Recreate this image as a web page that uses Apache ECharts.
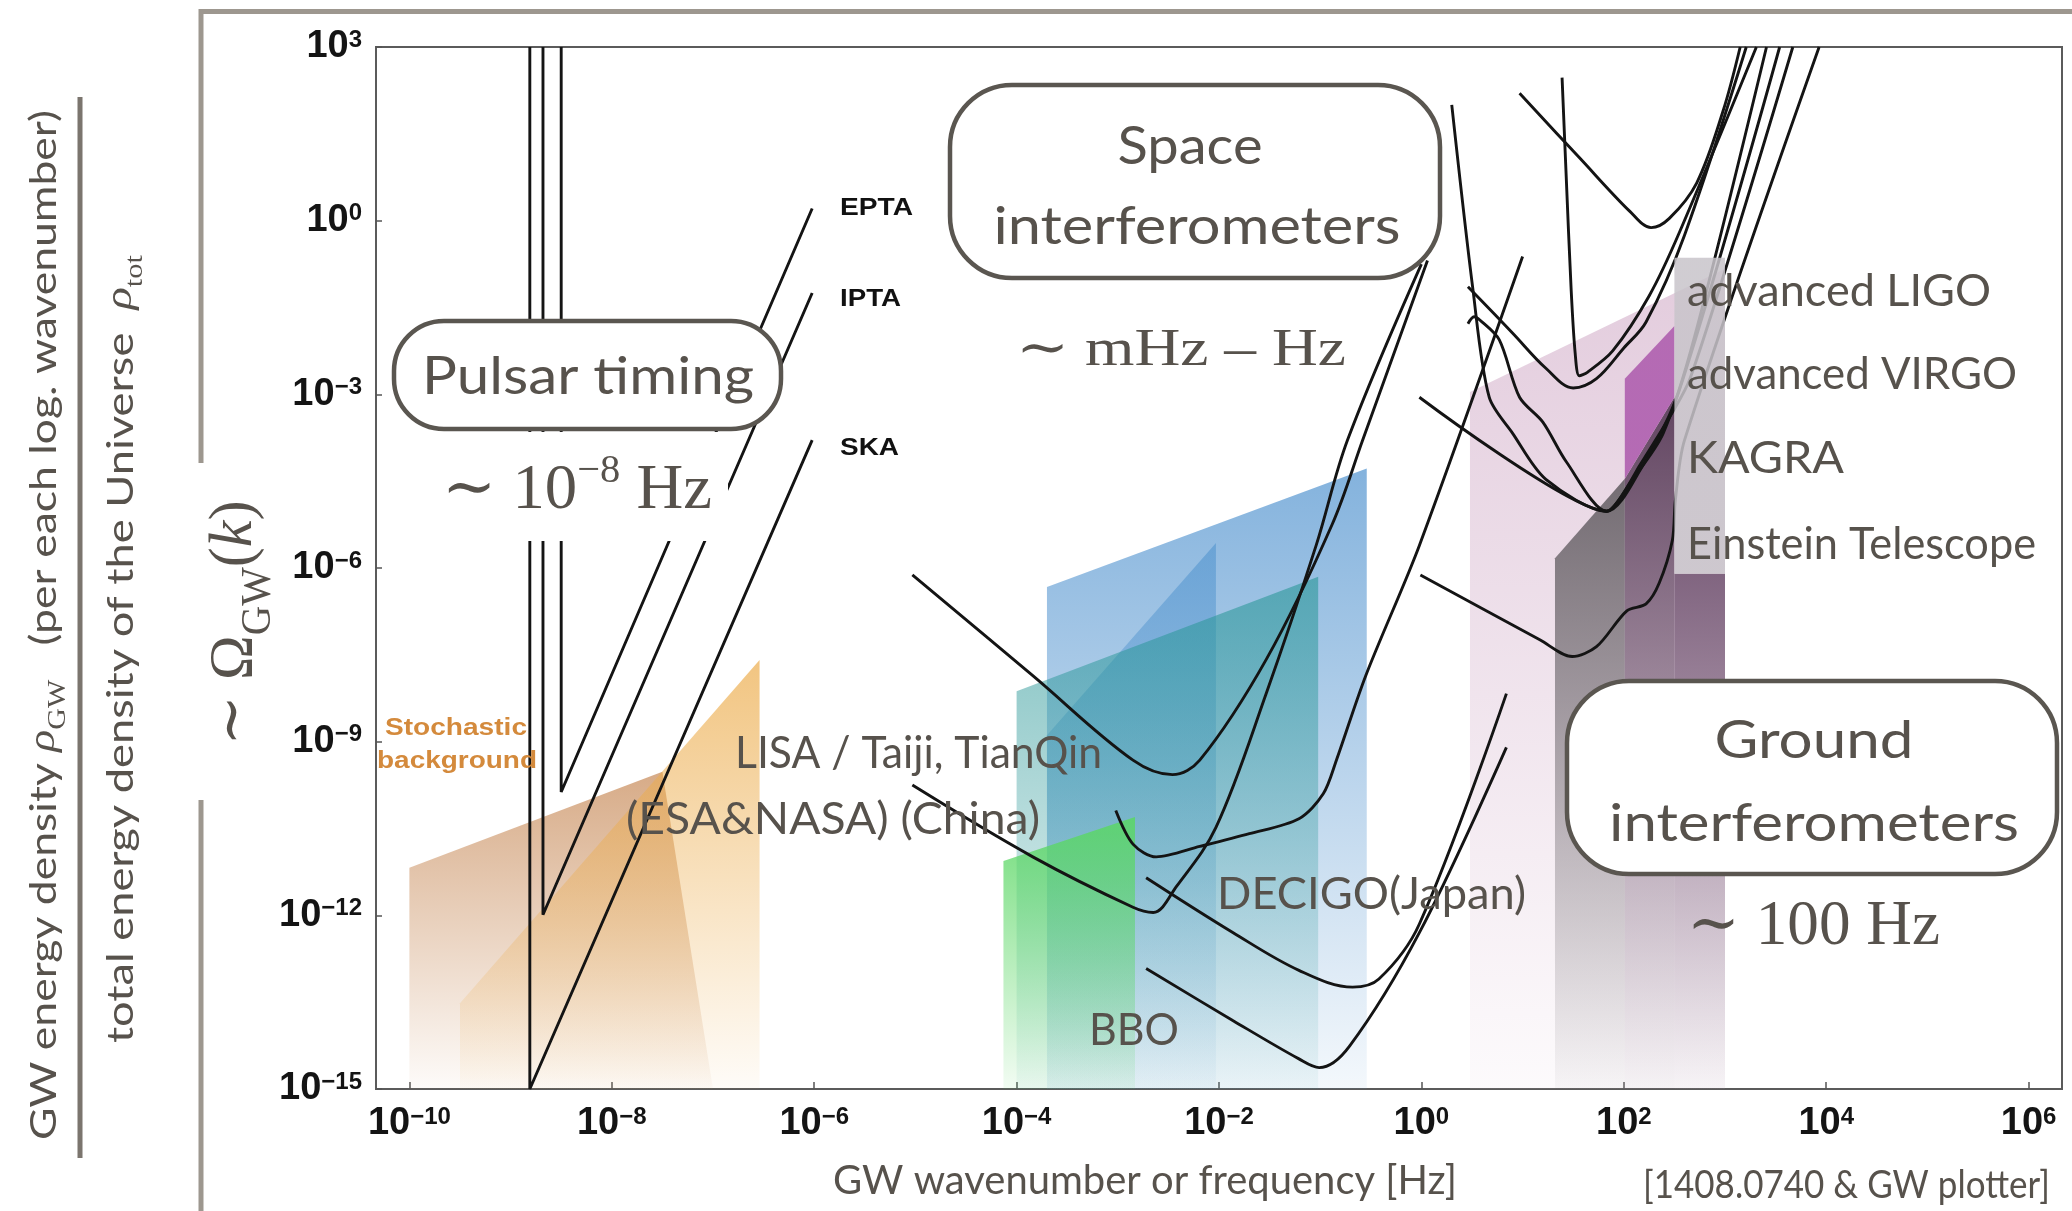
<!DOCTYPE html>
<html>
<head>
<meta charset="utf-8">
<title>Gravitational-wave detector sensitivities</title>
<script src="https://cdn.jsdelivr.net/npm/echarts@6/dist/echarts.min.js"></script>
<style>
  html, body { margin: 0; padding: 0; background: #fff; }
  #chart { width: 2072px; height: 1211px; }
</style>
</head>
<body>
<div id="chart"></div>
<script>
// axes are in log10 units: x = log10(f / Hz), y = log10(Omega_GW)
const X_MIN = -10.33, X_MAX = 6.33;
const Y_MIN = -15, Y_MAX = 3;
const xTicks = [-10, -8, -6, -4, -2, 0, 2, 4, 6];
const yTicks = [3, 0, -3, -6, -9, -12, -15];

// pulsar timing arrays
const epta = [[-8.50, 3], [-8.50, -9.87], [-6.02, 0.21]];
const ipta = [[-8.68, 3], [-8.68, -11.99], [-6.02, -1.25]];
const ska = [[-8.81, 3], [-8.81, -15], [-6.02, -3.79]];

// space interferometers
const lisa = [[-5.03, -6.12], [-3.84, -7.86], [-2.85, -9.32], [-2.46, -9.57], [-2.19, -9.32], [-1.53, -7.57], [-0.88, -5.24], [-0.58, -3.79], [0.06, -0.69]];
const taiji = [[-5.03, -9.75], [-3.84, -10.99], [-2.85, -11.86], [-2.65, -11.95], [-2.42, -11.50], [-2.03, -10.48], [-1.53, -8.15], [-1.04, -5.61], [-0.73, -3.79], [0.0, -0.75]];
const tianqin = [[-3.02, -10.19], [-2.85, -10.77], [-2.62, -10.99], [-2.19, -10.81], [-1.70, -10.59], [-1.21, -10.33], [-0.97, -9.90], [-0.84, -9.32], [-0.55, -7.86], [-0.02, -5.61], [1.0, -0.62]];
const decigo = [[-2.72, -11.35], [-1.86, -12.30], [-1.21, -12.95], [-0.68, -13.24], [-0.42, -13.10], [-0.02, -12.15], [0.84, -8.17]];
const bbo = [[-2.72, -12.92], [-1.86, -13.82], [-1.21, -14.48], [-1.01, -14.63], [-0.71, -14.26], [-0.02, -12.30], [0.84, -9.10]];

// ground interferometers
const groundA = [[0.97, 2.20], [1.56, 1.09], [2.06, 0.16], [2.27, -0.12], [2.45, 0.04], [2.72, 0.65], [2.98, 1.89], [3.15, 3.0]];
const aLIGO = [[0.46, -1.14], [0.90, -1.94], [1.23, -2.55], [1.50, -2.89], [1.73, -2.73], [2.0, -2.20], [2.22, -1.75], [2.60, -0.25], [3.21, 3.0]];
const aVIRGO = [[1.39, 2.47], [1.43, 0.8], [1.48, -1.20], [1.52, -2.30], [1.56, -2.68], [1.64, -2.62], [1.89, -2.25], [2.25, -1.30], [2.55, -0.2], [3.31, 3.0]];
const kagra = [[0.46, -1.78], [0.52, -1.66], [0.58, -1.72], [0.77, -2.06], [0.97, -3.05], [1.20, -3.48], [1.43, -4.16], [1.83, -5.02], [2.09, -4.46], [2.39, -3.67], [2.70, -2.00], [3.41, 3.0]];
const groundF = [[0.30, 2.0], [0.51, -1.20], [0.67, -3.05], [0.90, -3.67], [1.23, -4.47], [1.83, -5.02], [2.16, -4.31], [2.55, -2.92], [3.54, 3.0]];
const groundG = [[-0.02, -3.05], [1.83, -5.02], [2.16, -4.22], [2.65, -2.75], [3.67, 3.0]];
const einstein = [[-0.01, -6.12], [1.17, -7.24], [1.49, -7.53], [1.73, -7.36], [2.03, -6.74], [2.22, -6.62], [2.35, -6.26], [2.48, -5.52], [2.51, -4.82], [2.60, -3.79], [3.93, 3.0]];

// shaded signal regions (polygon vertices)
const stochasticA = [[-10, -15], [-10, -11.18], [-7.50, -9.52], [-7.0, -15]];
const stochasticB = [[-9.5, -15], [-9.5, -13.52], [-6.54, -7.59], [-6.54, -15]];
const lisaBand = [[-3.70, -15], [-3.70, -6.33], [-0.54, -4.28], [-0.54, -15]];
const lisaCore = [[-3.70, -15], [-3.70, -8.89], [-2.03, -5.57], [-2.03, -15]];
const taijiBand = [[-4.00, -15], [-4.00, -8.13], [-1.02, -6.15], [-1.02, -15]];
const bboBand = [[-4.13, -15], [-4.13, -11.06], [-2.83, -10.30], [-2.83, -15]];
const groundBand = [[0.48, -15], [0.48, -2.96], [3.0, -0.83], [3.0, -15]];
const groundGray = [[1.32, -15], [1.32, -5.83], [2.01, -4.46], [2.01, -15]];
const groundDark = [[2.01, -15], [2.01, -4.46], [2.50, -3.05], [2.50, -15]];
const groundMagenta = [[2.01, -4.46], [2.01, -2.73], [2.50, -1.82], [2.50, -3.05]];
const groundRight = [[2.50, -15], [2.50, -6.10], [3.0, -6.10], [3.0, -15]];
const groundVeil = [[2.50, -6.10], [2.50, -0.64], [3.0, -0.64], [3.0, -6.10]];

const INK = '#57524c';
const SANS = 'Lato';
const SERIF = "'Liberation Serif', 'DejaVu Serif', serif";
const HELV = "'Liberation Sans', Arial, sans-serif";

const bands = [
  { pts: stochasticA, rgb: '205,150,105', top: 0.8, bottom: 0.04 },
  { pts: stochasticB, rgb: '236,172,75', top: 0.7, bottom: 0.04 },
  { pts: lisaBand, rgb: '110,165,215', top: 0.85, bottom: 0.08 },
  { pts: lisaCore, rgb: '60,135,200', top: 0.45, bottom: 0.04 },
  { pts: taijiBand, rgb: '40,150,150', top: 0.6, bottom: 0.05 },
  { pts: bboBand, rgb: '90,215,100', top: 0.85, bottom: 0.08 },
  { pts: groundBand, rgb: '222,195,215', top: 0.85, bottom: 0.08 },
  { pts: groundGray, rgb: '95,90,95', top: 0.85, bottom: 0.04 },
  { pts: groundDark, rgb: '75,45,75', top: 0.85, bottom: 0.04 },
  { pts: groundMagenta, rgb: '175,95,175', top: 0.9, bottom: 0.9 },
  { pts: groundRight, rgb: '110,80,110', top: 0.85, bottom: 0.04 }
];
const veils = [{ pts: groundVeil, rgb: '200,196,202', top: 0.85, bottom: 0.85 }];

const curves = [
  [ska, 0], [ipta, 0], [epta, 0],
  [lisa, 0.35], [taiji, 0.35], [tianqin, 0.3], [decigo, 0.35], [bbo, 0.35],
  [groundA, 0.35], [aLIGO, 0.35], [aVIRGO, 0.3], [kagra, 0.3], [groundF, 0.3], [groundG, 0.2], [einstein, 0.3]
];

const bandSeries = (list, z) => ({
  type: 'custom',
  z,
  silent: true,
  data: list.map((b, i) => [b.pts[0][0], b.pts[0][1], i]),
  renderItem: (params, api) => {
    const b = list[params.dataIndex];
    return {
      type: 'polygon',
      shape: { points: b.pts.map(p => api.coord(p)) },
      style: {
        fill: new echarts.graphic.LinearGradient(0, 0, 0, 1, [
          { offset: 0, color: `rgba(${b.rgb},${b.top})` },
          { offset: 1, color: `rgba(${b.rgb},${b.bottom})` }
        ])
      }
    };
  }
});

// text measuring, to squeeze the substitute fonts to the widths in the figure
const mctx = document.createElement('canvas').getContext('2d');
const widthOf = (str, font) => { mctx.font = font; return mctx.measureText(str).width; };

const label = (str, x, y, size, width, o = {}) => {
  const font = `${o.italic ? 'italic ' : ''}${o.bold ? 'bold ' : ''}${size}px ${o.family || SANS}`;
  return {
    type: 'text', x, y, z: 110,
    rotation: o.rotation || 0,
    scaleX: width ? width / widthOf(str, font) : 1,
    style: { text: str, font, fill: o.color || INK, align: o.align || 'center', verticalAlign: 'middle' }
  };
};

const richLabel = (parts, styles, x, y, width, o = {}) => {
  let w = 0;
  parts.forEach(([k, s]) => {
    const st = styles[k];
    w += widthOf(s, `${st.fontStyle || 'normal'} ${st.fontWeight || 'normal'} ${st.fontSize}px ${st.fontFamily}`);
  });
  return {
    type: 'text', x, y, z: 110,
    rotation: o.rotation || 0,
    scaleX: width ? width / w : 1,
    style: {
      text: parts.map(([k, s]) => `{${k}|${s}}`).join(''),
      rich: styles,
      align: o.align || 'center',
      verticalAlign: 'middle'
    }
  };
};

const box = (x, y, w, h, r) => ({
  type: 'rect', z: 100,
  shape: { x, y, width: w, height: h, r },
  style: { fill: '#fff', stroke: '#5a5650', lineWidth: 4.5 }
});

const line = (x1, y1, x2, y2, color, w) => ({
  type: 'line', z: 100,
  shape: { x1, y1, x2, y2 },
  style: { stroke: color, lineWidth: w }
});

const serifTok = (size, extra = {}) => Object.assign({ fontSize: size, fontFamily: SERIF, fill: INK }, extra);
const sansTok = (size, extra = {}) => Object.assign({ fontSize: size, fontFamily: SANS, fill: INK }, extra);

const graphic = [
  // slide frame
  line(199, 11.5, 2072, 11.5, '#9d978f', 5),
  line(201, 9, 201, 463, '#9d978f', 5),
  line(201, 800, 201, 1211, '#9d978f', 5),
  // left fraction
  line(80, 97, 80, 1158, '#7b756e', 5),
  richLabel([['n', 'GW energy density '], ['g', 'ρ'], ['sub', 'GW'], ['n', '   (per each log. wavenumber)']], {
    n: sansTok(37, { padding: [0, 0, 8, 0] }),
    g: serifTok(38, { fontStyle: 'italic', padding: [0, 0, 8, 0] }),
    sub: serifTok(25, { verticalAlign: 'bottom' })
  }, 48, 625, 1030, { rotation: Math.PI / 2 }),
  richLabel([['n', 'total energy density of the Universe  '], ['g', 'ρ'], ['sub', 'tot']], {
    n: sansTok(37, { padding: [0, 0, 8, 0] }),
    g: serifTok(38, { fontStyle: 'italic', padding: [0, 0, 8, 0] }),
    sub: serifTok(25, { verticalAlign: 'bottom' })
  }, 125, 649, 788, { rotation: Math.PI / 2 }),
  richLabel([['t', '∼ Ω'], ['sub', 'GW'], ['t', '('], ['i', 'k'], ['t', ')']], {
    t: serifTok(62, { padding: [0, 0, 14, 0] }),
    i: serifTok(62, { fontStyle: 'italic', padding: [0, 0, 14, 0] }),
    sub: serifTok(42, { verticalAlign: 'bottom' })
  }, 242, 623, 245, { rotation: Math.PI / 2 }),

  // region boxes
  box(394, 321, 387, 108, 50),
  label('Pulsar timing', 588, 377, 53, 332),
  { type: 'rect', z: 100, shape: { x: 430, y: 432, width: 298, height: 109 }, style: { fill: '#fff' } },
  richLabel([['t', '∼ 10'], ['s', '−8'], ['t', ' Hz']], {
    t: serifTok(64, { padding: [8, 0, 0, 0] }),
    s: serifTok(40, { verticalAlign: 'top' })
  }, 577, 487, 270),

  box(950, 85, 490, 193, 62),
  label('Space', 1190, 147, 53, 145),
  label('interferometers', 1197, 227, 53, 407),
  label('∼ mHz – Hz', 1181, 351, 53, 330, { family: SERIF }),

  box(1567, 681, 490, 193, 62),
  label('Ground', 1814, 741, 53, 199),
  label('interferometers', 1814, 824, 53, 410),
  label('∼ 100 Hz', 1687, 927, 64, 253, { family: SERIF, align: 'left' }),

  // detector labels
  label('advanced LIGO', 1687, 292, 44, 304, { align: 'left' }),
  label('advanced VIRGO', 1687, 375, 44, 330, { align: 'left' }),
  label('KAGRA', 1687, 459, 44, 157, { align: 'left' }),
  label('Einstein Telescope', 1687, 545, 44, 349, { align: 'left' }),
  label('LISA / Taiji, TianQin', 735, 754, 44, 367, { align: 'left' }),
  label('(ESA&NASA) (China)', 626, 820, 44, 414, { align: 'left' }),
  label('DECIGO(Japan)', 1217, 895, 44, 309, { align: 'left' }),
  label('BBO', 1089, 1031, 44, 90, { align: 'left' }),
  label('EPTA', 840, 208, 24, 73, { align: 'left', bold: true, family: HELV, color: '#111' }),
  label('IPTA', 840, 299, 24, 61, { align: 'left', bold: true, family: HELV, color: '#111' }),
  label('SKA', 840, 448, 24, 59, { align: 'left', bold: true, family: HELV, color: '#111' }),
  label('Stochastic', 385, 729, 23, 142, { align: 'left', bold: true, family: HELV, color: '#d48a3c' }),
  label('background', 377, 762, 23, 160, { align: 'left', bold: true, family: HELV, color: '#d48a3c' }),

  // axis captions
  label('GW wavenumber or frequency [Hz]', 833, 1181, 41, 624, { align: 'left' }),
  label('[1408.0740 & GW plotter]', 1643, 1186, 38, 407, { align: 'left' })
];

const expRich = {
  b: { fontSize: 38, fontWeight: 'bold', fontFamily: HELV, color: '#141414', lineHeight: 38, padding: [7, 0, 7, 0] },
  s: { fontSize: 24, fontWeight: 'bold', fontFamily: HELV, color: '#141414', lineHeight: 24, verticalAlign: 'top' }
};
const expLabel = v => `{b|10}{s|${String(v).replace('-', '−')}}`;

const chart = echarts.init(document.getElementById('chart'));
chart.setOption({
  animation: false,
  backgroundColor: '#fff',
  grid: {
    left: 376, top: 47, width: 1686, height: 1042,
    show: true, borderColor: '#5b5b5b', borderWidth: 2, backgroundColor: 'transparent'
  },
  xAxis: {
    type: 'value', min: X_MIN, max: X_MAX,
    axisLine: { show: false, onZero: false },
    splitLine: { show: false },
    axisTick: { show: true, inside: true, length: 7, customValues: xTicks, lineStyle: { color: '#555', width: 1.5 } },
    axisLabel: { customValues: xTicks, margin: 16, formatter: expLabel, rich: expRich }
  },
  yAxis: {
    type: 'value', min: Y_MIN, max: Y_MAX,
    axisLine: { show: false, onZero: false },
    splitLine: { show: false },
    axisTick: { show: true, inside: true, length: 6, customValues: yTicks, lineStyle: { color: '#555', width: 1.5 } },
    axisLabel: { customValues: yTicks, margin: 14, formatter: expLabel, rich: expRich }
  },
  series: [
    bandSeries(bands, 1),
    ...curves.map(([data, smooth]) => ({
      type: 'line', data, smooth, symbol: 'none', z: 3, silent: true,
      lineStyle: { color: '#141414', width: 2.9 }
    })),
    bandSeries(veils, 4)
  ],
  graphic
});
</script>
</body>
</html>
